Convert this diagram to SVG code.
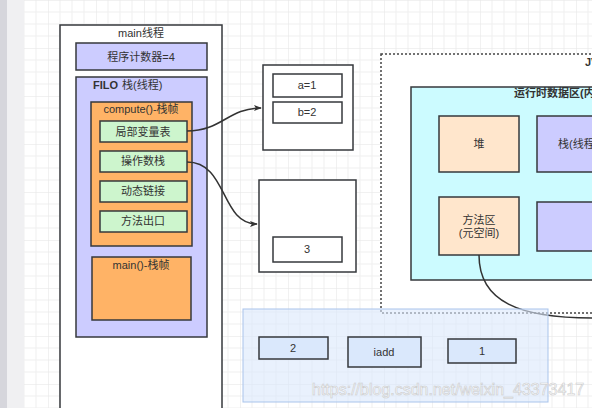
<svg xmlns="http://www.w3.org/2000/svg" width="592" height="408" viewBox="0 0 592 408">
<defs>
<pattern id="grid" x="0" y="0" width="48" height="48" patternUnits="userSpaceOnUse">
<path d="M12 0V48M24 0V48M36 0V48M0 12H48M0 24H48M0 36H48" stroke="#efefef" stroke-width="1" fill="none"/>
<path d="M0 0V48M0 0H48" stroke="#e4e4e4" stroke-width="1" fill="none"/>
</pattern>
<marker id="arr" viewBox="0 0 10 10" refX="9" refY="5" markerWidth="8" markerHeight="8" markerUnits="userSpaceOnUse" orient="auto">
<path d="M0 1L10 5L0 9L2.5 5Z" fill="#333"/>
</marker>
<style>
text{font-family:"Liberation Sans","Noto Sans CJK SC",sans-serif;font-size:11px;fill:#333;text-anchor:middle}
.b{stroke:#36393d;stroke-width:1.5}
.lav{fill:#ccccff}
.org{fill:#ffb366}
.grn{fill:#cdf5cd}
.wht{fill:#ffffff}
.pch{fill:#ffe6cc}
.cyn{fill:#ccfbff}
.blu{fill:#dae8fc}
.bold{font-weight:bold}
.st{text-anchor:start}
.conn{fill:none;stroke:#333;stroke-width:1.5}
</style>
</defs>
<rect x="0" y="0" width="592" height="408" fill="#ffffff"/>
<rect x="24" y="0" width="568" height="408" fill="url(#grid)"/>
<rect x="0" y="0" width="7" height="408" fill="#d6d6dc"/>
<rect x="7" y="0" width="17" height="408" fill="#f0f0f2"/>

<g id="main-thread">
<rect x="60" y="25" width="162" height="395" class="b wht" stroke="#555"/>
<text x="141" y="37">main线程</text>
</g>
<g id="pc">
<rect x="76" y="43" width="131" height="27" class="b lav"/>
<text x="141" y="61">程序计数器=4</text>
</g>
<g id="stack">
<rect x="76" y="77" width="131" height="260" class="b lav"/>
<text x="93" y="89" class="st bold">FILO</text>
<text x="122" y="89" class="st">栈(线程)</text>
</g>
<g id="compute-frame">
<rect x="91" y="102" width="101" height="144" class="b org"/>
<text x="141" y="113">compute()-栈帧</text>
</g>
<g id="local-vars">
<rect x="100" y="121" width="87" height="21" class="b grn"/>
<text x="143" y="136">局部变量表</text>
</g>
<g id="operand-stack">
<rect x="100" y="151" width="87" height="21" class="b grn"/>
<text x="143" y="165">操作数栈</text>
</g>
<g id="dynamic-link">
<rect x="100" y="181" width="87" height="21" class="b grn"/>
<text x="143" y="195">动态链接</text>
</g>
<g id="method-exit">
<rect x="100" y="211" width="87" height="21" class="b grn"/>
<text x="143" y="225">方法出口</text>
</g>
<g id="main-frame">
<rect x="92" y="257" width="99" height="63" class="b org"/>
<text x="141" y="269">main()-栈帧</text>
</g>

<g id="locals-box">
<rect x="263" y="65" width="90" height="85" class="b wht"/>
</g>
<g id="a1">
<rect x="273" y="74" width="69" height="23" class="b wht"/>
<text x="307" y="89">a=1</text>
</g>
<g id="b2">
<rect x="273" y="102" width="69" height="21" class="b wht"/>
<text x="307" y="116">b=2</text>
</g>
<g id="operand-box">
<rect x="259" y="180" width="97" height="92" class="b wht"/>
</g>
<g id="v3">
<rect x="273" y="237" width="69" height="25" class="b wht"/>
<text x="307" y="253">3</text>
</g>

<g id="jvm">
<rect x="381" y="54" width="230" height="259" fill="#ffffff" stroke="#444" stroke-width="1.5" stroke-dasharray="2 2"/>
<text x="585" y="66" class="st bold">JVM</text>
</g>
<g id="runtime-area">
<rect x="411" y="87" width="200" height="193" class="b cyn"/>
<text x="514" y="97" class="st bold">运行时数据区(内存结构)</text>
</g>
<g id="heap">
<rect x="439" y="116" width="80" height="56" class="b pch"/>
<text x="479" y="148">堆</text>
</g>
<g id="thread-stack">
<rect x="537" y="116" width="70" height="56" class="b lav"/>
<text x="558" y="148" class="st">栈(线程)</text>
</g>
<g id="method-area">
<rect x="439" y="197" width="80" height="58" class="b pch"/>
<text x="479" y="224">方法区</text>
<text x="479" y="237">(元空间)</text>
</g>
<g id="right-box">
<rect x="537" y="202" width="70" height="49" class="b lav"/>
</g>

<g id="connectors">
<path class="conn" d="M187 131C222 131 228 108 261 108" marker-end="url(#arr)"/>
<path class="conn" d="M187 162C228 162 220 224 257 224" marker-end="url(#arr)"/>
<path class="conn" d="M479 255C479 302 520 318 592 318"/>
</g>

<g id="bytecode-area">
<rect x="243" y="309" width="305" height="93" fill="#dae8fc" fill-opacity="0.6" stroke="#a9c4eb" stroke-width="1"/>
</g>
<g id="op2">
<rect x="259" y="337" width="69" height="22" class="b blu"/>
<text x="293" y="352">2</text>
</g>
<g id="iadd">
<rect x="348" y="337" width="73" height="30" class="b blu"/>
<text x="384" y="356">iadd</text>
</g>
<g id="op1">
<rect x="448" y="339" width="68" height="24" class="b blu"/>
<text x="482" y="355">1</text>
</g>
<text x="312" y="395" class="st" style="font-size:16px;fill:#ffffff;stroke:#c8c8c8;stroke-width:0.6;opacity:0.9">https://blog.csdn.net/weixin_43373417</text>
</svg>
